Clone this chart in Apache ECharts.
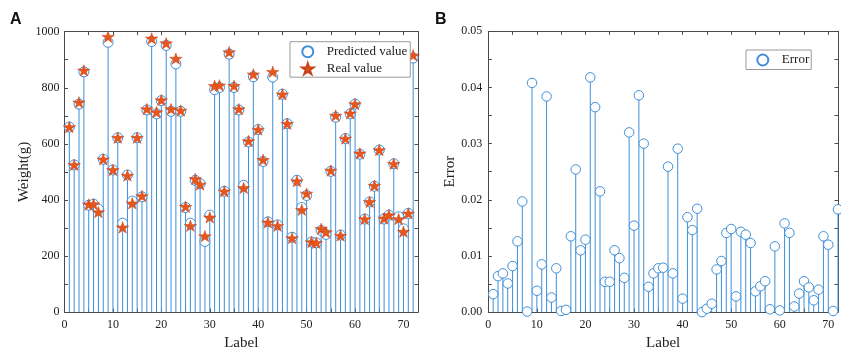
<!DOCTYPE html>
<html>
<head>
<meta charset="utf-8">
<script src="https://cdn.jsdelivr.net/npm/echarts@6/dist/echarts.min.js"></script>
<style>html,body{margin:0;padding:0;background:#fff;}#c{width:841px;height:356px;}</style>
</head>
<body>
<div id="c"></div>
<script>
// ---- data ----
const labels = Array.from({length: 72}, (_, i) => i + 1);
const predicted = [660,525,742,857,381,385,367,545,962,507,622,317,489,396,622,411,721,965,707,754,951,716,885,716,373,317,470,458,252,346,793,801,431,920,801,721,452,607,839,651,537,322,838,311,777,672,267,470,373,416,250,247,291,277,502,695,275,619,707,742,563,332,393,449,578,332,346,529,340,297,352,906];
const realVal = [660,525,748,862,384,385,357,545,982,507,622,302,487,388,622,414,724,976,713,756,959,724,904,719,376,308,475,455,271,338,807,809,431,927,807,724,443,610,848,651,543,320,857,308,777,672,264,467,365,423,250,247,297,285,505,701,273,619,709,742,566,332,393,451,578,334,346,529,332,287,352,916];
const errorVal = [0.0032,0.0064,0.0069,0.0051,0.0082,0.0126,0.0197,0.0001,0.0408,0.0038,0.0085,0.0384,0.0026,0.0078,0.0002,0.0004,0.0135,0.0254,0.0110,0.0129,0.0418,0.0365,0.0215,0.0054,0.0054,0.0110,0.0096,0.0061,0.0320,0.0154,0.0386,0.0300,0.0045,0.0069,0.0078,0.0079,0.0259,0.0069,0.0291,0.0024,0.0169,0.0146,0.0184,0.0000,0.0006,0.0015,0.0076,0.0091,0.0141,0.0148,0.0028,0.0143,0.0138,0.0123,0.0037,0.0046,0.0055,0.0005,0.0117,0.0003,0.0158,0.0141,0.0010,0.0033,0.0055,0.0044,0.0021,0.0040,0.0135,0.0120,0.0002,0.0183];
const xTicksA = [0,10,20,30,40,50,60,70];
const yTicksA = [0,200,400,600,800,1000];
const yTicksB = [0,0.01,0.02,0.03,0.04,0.05];

// ---- styles ----
const BLUE = '#3f8fd6';
const ORANGE = '#e8561c';
const AXIS = '#4a4a4a';
const SERIF = 'Liberation Serif';
const STAR = 'path://M100,0 L122.45,69.1 L195.1,69.1 L136.3,111.8 L158.8,180.9 L100,138.2 L41.2,180.9 L63.7,111.8 L4.9,69.1 L77.55,69.1 Z';

const predPairs = labels.map((x, i) => [x, predicted[i]]);
const realPairs = labels.map((x, i) => [x, realVal[i]]);
const errPairs = labels.map((x, i) => [x, errorVal[i]]);

function stemSeries(data, xi, yi) {
  return {
    type: 'custom', xAxisIndex: xi, yAxisIndex: yi, data: data, silent: true, z: 1,
    renderItem: function (params, api) {
      const p0 = api.coord([api.value(0), 0]);
      const p1 = api.coord([api.value(0), api.value(1)]);
      return {type: 'line', shape: {x1: p0[0], y1: p0[1], x2: p1[0], y2: p1[1]},
              style: {stroke: BLUE, lineWidth: 1}};
    }
  };
}

function xAxis(gi, pos, max, labelsOn) {
  return {
    type: 'value', gridIndex: gi, position: pos, min: 0, max: max, interval: 5,
    axisLine: {show: true, onZero: false, lineStyle: {color: AXIS, width: 1}},
    axisTick: {show: true, inside: true, length: 3.5, lineStyle: {color: AXIS}},
    axisLabel: {show: labelsOn, margin: 7, color: '#222', fontFamily: SERIF, fontSize: 12,
      formatter: v => (xTicksA.indexOf(v) >= 0 ? String(v) : '')},
    splitLine: {show: false},
    name: labelsOn ? 'Label' : '', nameLocation: 'middle', nameGap: 23.5,
    nameTextStyle: {color: '#222', fontFamily: SERIF, fontSize: 15}
  };
}
function yAxisA(pos, labelsOn) {
  return {
    type: 'value', gridIndex: 0, position: pos, min: 0, max: 1000, interval: 100,
    axisLine: {show: true, onZero: false, lineStyle: {color: AXIS, width: 1}},
    axisTick: {show: true, inside: true, length: 3.5, lineStyle: {color: AXIS}},
    axisLabel: {show: labelsOn, margin: 5, color: '#222', fontFamily: SERIF, fontSize: 12,
      formatter: v => (yTicksA.indexOf(v) >= 0 ? String(v) : '')},
    splitLine: {show: false},
    name: labelsOn ? 'Weight(g)' : '', nameLocation: 'middle', nameGap: 31,
    nameTextStyle: {color: '#222', fontFamily: SERIF, fontSize: 15}
  };
}
function yAxisB(pos, labelsOn) {
  return {
    type: 'value', gridIndex: 1, position: pos, min: 0, max: 0.05, interval: 0.005,
    axisLine: {show: true, onZero: false, lineStyle: {color: AXIS, width: 1}},
    axisTick: {show: true, inside: true, length: 3.5, lineStyle: {color: AXIS}},
    axisLabel: {show: labelsOn, margin: 6, color: '#222', fontFamily: SERIF, fontSize: 12,
      formatter: v => (yTicksB.some(t => Math.abs(t - v) < 1e-9) ? v.toFixed(2) : '')},
    splitLine: {show: false},
    name: labelsOn ? 'Error' : '', nameLocation: 'middle', nameGap: 30,
    nameTextStyle: {color: '#222', fontFamily: SERIF, fontSize: 15}
  };
}

const chart = echarts.init(document.getElementById('c'), null, {renderer: 'canvas'});
chart.setOption({
  animation: false,
  backgroundColor: '#fff',
  title: [
    {text: 'A', left: 10, top: 12, padding: 0, textStyle: {fontFamily: 'Liberation Sans', fontWeight: 'bold', fontSize: 16, color: '#111'}},
    {text: 'B', left: 435, top: 12, padding: 0, textStyle: {fontFamily: 'Liberation Sans', fontWeight: 'bold', fontSize: 16, color: '#111'}}
  ],
  grid: [
    {left: 64.5, top: 31.7, width: 353.5, bottom: 40},
    {left: 488.3, top: 31.3, width: 351.7, bottom: 38.5}
  ],
  legend: [
    {
      data: [{name: 'Predicted value', icon: 'circle'}, {name: 'Real value', icon: STAR}],
      orient: 'vertical', left: 290, top: 41.7, itemWidth: 28, itemHeight: 11, itemGap: 4,
      padding: [3.5, 3, 2, 11], borderColor: '#9a9a9a', borderWidth: 1, backgroundColor: '#fff',
      textStyle: {fontFamily: SERIF, fontSize: 13, color: '#222'},
      selectedMode: false
    },
    {
      data: [{name: 'Error', icon: 'circle'}],
      orient: 'vertical', left: 746, top: 50, itemWidth: 28, itemHeight: 11,
      padding: [3.5, 2, 3, 10.3], borderColor: '#9a9a9a', borderWidth: 1, backgroundColor: '#fff',
      textStyle: {fontFamily: SERIF, fontSize: 13, color: '#222'},
      selectedMode: false
    }
  ],
  xAxis: [xAxis(0, 'bottom', 73, true), xAxis(0, 'top', 73, false), xAxis(1, 'bottom', 72, true), xAxis(1, 'top', 72, false)],
  yAxis: [yAxisA('left', true), yAxisA('right', false), yAxisB('left', true), yAxisB('right', false)],
  series: [
    stemSeries(predPairs, 0, 0),
    {name: 'Predicted value', type: 'scatter', xAxisIndex: 0, yAxisIndex: 0, data: predPairs,
     symbol: 'circle', symbolSize: 10, z: 2,
     itemStyle: {color: '#fff', borderColor: BLUE, borderWidth: 1, opacity: 1}},
    {name: 'Real value', type: 'scatter', xAxisIndex: 0, yAxisIndex: 0, data: realPairs,
     symbol: STAR, symbolSize: [12.5, 12], symbolKeepAspect: true, z: 3,
     itemStyle: {color: ORANGE, borderColor: '#c9431a', borderWidth: 0.5, opacity: 1}},
    stemSeries(errPairs, 2, 2),
    {name: 'Error', type: 'scatter', xAxisIndex: 2, yAxisIndex: 2, data: errPairs,
     symbol: 'circle', symbolSize: 9.5, z: 2, clip: false,
     itemStyle: {color: '#fff', borderColor: BLUE, borderWidth: 1, opacity: 1}}
  ]
});
</script>
</body>
</html>
